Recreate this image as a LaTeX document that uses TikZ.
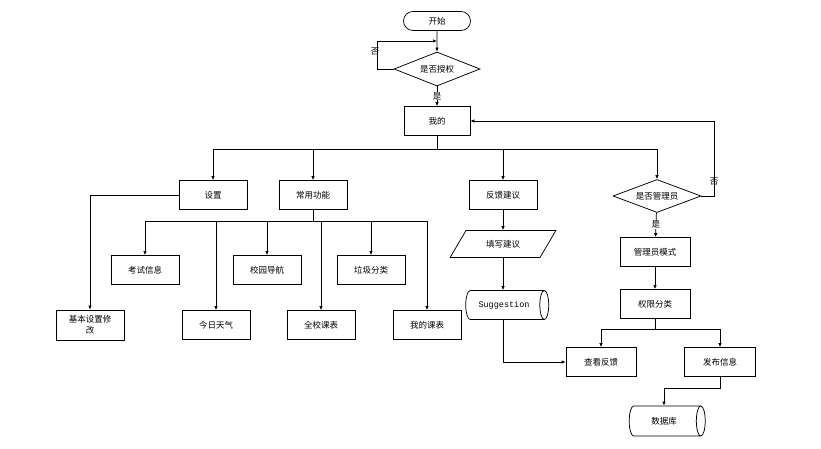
\documentclass[tikz,border=0pt]{standalone}
\usepackage{fontspec}
\newfontfamily\cjk{Noto Sans CJK SC}
\setmonofont{Liberation Mono}
\usetikzlibrary{shapes.geometric,shapes.misc,arrows.meta,positioning}

\begin{document}
\begin{tikzpicture}[x=1pt,y=-1pt,line width=0.75pt,
        every node/.style={font=\cjk\fontsize{8.5}{10}\selectfont},% all labels in one font
        box/.style={draw,rectangle,minimum width=68pt,minimum height=29pt,inner sep=1pt},
        ask/.style={draw,diamond,aspect=2.6,minimum width=86pt,minimum height=34pt,inner sep=0pt},
        termbox/.style={draw,rounded rectangle,minimum width=69pt,minimum height=19pt,inner sep=1pt},
        inbox/.style={draw,trapezium,trapezium left angle=52,trapezium right angle=128,
                trapezium stretches=true,minimum width=106pt,minimum height=27pt,inner sep=1pt},
        store/.style={draw,cylinder,shape aspect=0.9,minimum width=29pt,minimum height=83pt,inner sep=1pt},
        arr/.style={-{Latex[length=4pt,width=3.5pt]}},
        tag/.style={fill=white,inner sep=0.5pt}]
\fill[white] (0,0) rectangle (821,448);
\useasboundingbox (0,0) rectangle (821,448);

% top of the chart
\node[termbox] (start) at (437,21) {开始};
\node[ask] (auth) at (437,69) {是否授权};
\node[box,minimum width=66pt] (me) at (437,121) {我的};
\coordinate (authin) at (437,41);
\node (noA) at (375,52) {否};

% second level
\node[box] (set) at (213,195) {设置};
\node[box] (common) at (313,195) {常用功能};
\node[box] (feedback) at (503,195) {反馈建议};
\node[ask,minimum width=88pt,minimum height=33pt] (admin) at (657,196) {是否管理员};
\node (noB) at (714,182) {否};

% common functions
\node[box,minimum height=30pt] (basic) at (90,325) {\shortstack{基本设置修\\改}};
\foreach[count=\i] \t/\x/\y in {考试信息/145/270,今日天气/216/325,校园导航/267/270,
        全校课表/321/325,垃圾分类/371/270,我的课表/427/325}{ %\i numbers the boxes
\node[box] (fn-\i) at (\x,\y) {\t};
}

% feedback and admin side
\node[inbox] (write) at (503,244) {填写建议};
\node[store] (sugg) at (504,305) {\ttfamily Suggestion};
\node[box,minimum width=70pt] (view) at (601,362) {查看反馈};
\node[box,minimum width=70pt] (mode) at (655,252) {管理员模式};
\node[box,minimum width=70pt] (perm) at (655,304) {权限分类};
\node[box,minimum width=71pt] (publish) at (720,362) {发布信息};
\node[store,minimum width=30pt,minimum height=76pt] (db) at (664,421) {数据库};

% connectors
\draw[arr] (start) -- (auth);
\draw[arr] (auth.west) -- ++(-16,0) |- (authin);
\draw[arr] (auth) -- node[tag] (yesA) {是} (me);
\coordinate (bus1) at (437,149);
\draw (me.south) -- (bus1);
\foreach \n in {set,common,feedback,admin}{
\draw[arr] (bus1) -| (\n.north);
}
\draw[arr] (set.west) -| (basic.north);
\coordinate (bus2) at (313,221);
\draw (common.south) -- (bus2);
\foreach \i in {1,...,6}{
\draw[arr] (bus2) -| (fn-\i.north);
}
\draw[arr] (feedback) -- (write);
\draw[arr] (write.south) -- (write.south |- sugg.north);
\draw[arr] (sugg.south -| feedback) |- (view.west);
\draw[arr] (admin.east) -- ++(13,0) |- (me.east);
\draw[arr] (admin) -- node[tag] (yesB) {是} (mode);
\draw[arr] (mode) -- (perm);
\coordinate (bus3) at (655,329);
\draw (perm.south) -- (bus3);
\draw[arr] (bus3) -| (view.north);
\draw[arr] (bus3) -| (publish.north);
\draw[arr] (publish.south) -- ++(0,11) -| (db.north);
\end{tikzpicture}
\end{document}
